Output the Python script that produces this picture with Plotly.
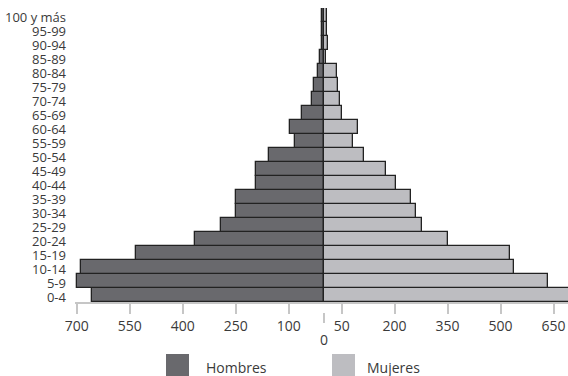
import plotly.graph_objects as go

# Population pyramid by five-year age group (thousands)
grupos = ["0-4", "5-9", "10-14", "15-19", "20-24", "25-29", "30-34", "35-39",
          "40-44", "45-49", "50-54", "55-59", "60-64", "65-69", "70-74",
          "75-79", "80-84", "85-89", "90-94", "95-99", "100 y más"]
hombres = [657, 700, 687, 531, 365, 293, 249, 249, 192, 192, 157, 82, 95, 62,
           33, 27, 16, 11, 5, 7, 7]
mujeres = [700, 633, 539, 528, 351, 278, 260, 247, 203, 176, 113, 83, 96, 52,
           44, 39, 38, 5, 11, 8, 8]

tick_vals = [-700, -550, -400, -250, -100, 50, 200, 350, 500, 650]
tick_text = ["700", "550", "400", "250", "100", "50", "200", "350", "500", "650"]

COLOR_H = "#69696d"
COLOR_M = "#bdbdc1"
EDGE = "#222222"
AXIS = "#c6c6c6"
TEXT = "#3a3a3a"
FONT = "Open Sans"

fig = go.Figure()
fig.add_trace(go.Bar(
    y=grupos, x=[-v for v in hombres], orientation="h", name="Hombres",
    marker=dict(color=COLOR_H, line=dict(color=EDGE, width=1.3)),
    showlegend=False, hoverinfo="skip",
))
fig.add_trace(go.Bar(
    y=grupos, x=mujeres, orientation="h", name="Mujeres",
    marker=dict(color=COLOR_M, line=dict(color=EDGE, width=1.3)),
    showlegend=False, hoverinfo="skip",
))

W, H = 568, 376
L, R, T, B = 75, 0, 8, 74
pw, ph = W - L - R, H - T - B


def px_x(px):
    return (px - L) / pw


def px_y(py):
    return (H - B - py) / ph


fig.update_layout(
    width=W, height=H,
    margin=dict(l=L, r=R, t=T, b=B),
    barmode="relative", bargap=0,
    plot_bgcolor="white", paper_bgcolor="white",
    font=dict(family=FONT, color=TEXT),
    xaxis=dict(
        range=[-705, 691], showgrid=False, zeroline=False,
        showline=True, linecolor=AXIS, linewidth=2,
        ticks="outside", ticklen=10, tickwidth=2, tickcolor=AXIS,
        tickvals=tick_vals, ticktext=tick_text,
        tickfont=dict(size=14, color=TEXT, family=FONT),
    ),
    yaxis=dict(
        type="category", categoryarray=grupos, showgrid=False,
        zeroline=False, showline=False, ticks="",
        tickmode="array", tickvals=grupos, ticktext=grupos,
        tickfont=dict(size=13, color=TEXT, family=FONT),
        ticklabelstandoff=8, ticklabelshift=2,
    ),
)

# Zero mark, set lower than the other ticks
fig.add_shape(type="line", xref="x", yref="paper", x0=0, x1=0,
              ysizemode="pixel", yanchor=0, y0=-11, y1=-21,
              line=dict(color=AXIS, width=2))
fig.add_annotation(x=0, xref="x", y=0, yref="paper", yshift=-37,
                   text="0", showarrow=False, xanchor="center", yanchor="middle",
                   font=dict(size=14, color=TEXT, family=FONT))

# Legend swatches and labels
for x0, x1, tx, label, color in [(166, 189, 204, "Hombres", COLOR_H),
                                 (332, 355, 365, "Mujeres", COLOR_M)]:
    fig.add_shape(type="rect", xref="paper", yref="paper",
                  x0=px_x(x0), x1=px_x(x1), y0=px_y(354), y1=px_y(378),
                  fillcolor=color, line=dict(width=0))
    fig.add_annotation(x=px_x(tx), xref="paper", y=px_y(367), yref="paper",
                       text=label, showarrow=False, xanchor="left",
                       yanchor="middle",
                       font=dict(size=14, color=TEXT, family=FONT))

fig.write_html("out.html")
